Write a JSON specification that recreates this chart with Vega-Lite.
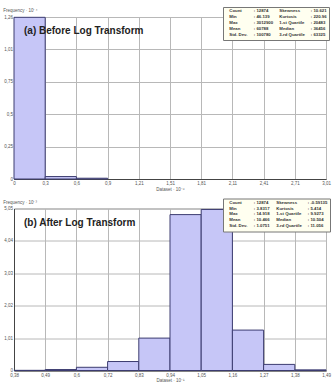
{
  "$schema": "https://vega.github.io/schema/vega-lite/v6.json",
  "padding": {"left": 2, "top": 6, "right": 2, "bottom": 2},
  "background": "white",
  "bounds": "flush",
  "spacing": 29.5,
  "datasets": {
    "before": [
      {"bin_start": 0, "bin_end": 0.30129, "frequency": 1.255},
      {"bin_start": 0.30129, "bin_end": 0.60258, "frequency": 0.019},
      {"bin_start": 0.60258, "bin_end": 0.90387, "frequency": 0.006}
    ],
    "after": [
      {"bin_start": 0.38317, "bin_end": 0.494033, "frequency": 0.005},
      {"bin_start": 0.494033, "bin_end": 0.604896, "frequency": 0.03},
      {"bin_start": 0.604896, "bin_end": 0.715759, "frequency": 0.1},
      {"bin_start": 0.715759, "bin_end": 0.826622, "frequency": 0.28},
      {"bin_start": 0.826622, "bin_end": 0.937485, "frequency": 1.01},
      {"bin_start": 0.937485, "bin_end": 1.048348, "frequency": 4.86},
      {"bin_start": 1.048348, "bin_end": 1.159211, "frequency": 5.02},
      {"bin_start": 1.159211, "bin_end": 1.270074, "frequency": 1.26},
      {"bin_start": 1.270074, "bin_end": 1.380937, "frequency": 0.19},
      {"bin_start": 1.380937, "bin_end": 1.4918, "frequency": 0.02}
    ],
    "statsBefore": [
      {"stat": "Count", "value": "12874"},
      {"stat": "Skewness", "value": "10.621"},
      {"stat": "Min", "value": "46.139"},
      {"stat": "Kurtosis", "value": "220.96"},
      {"stat": "Max", "value": "3012900"},
      {"stat": "1-st Quartile", "value": "20483"},
      {"stat": "Mean", "value": "60788"},
      {"stat": "Median", "value": "36456"},
      {"stat": "Std. Dev.", "value": "100780"},
      {"stat": "3-rd Quartile", "value": "63325"}
    ],
    "statsAfter": [
      {"stat": "Count", "value": "12874"},
      {"stat": "Skewness", "value": "-0.59135"},
      {"stat": "Min", "value": "3.8317"},
      {"stat": "Kurtosis", "value": "5.414"},
      {"stat": "Max", "value": "14.918"},
      {"stat": "1-st Quartile", "value": "9.9273"},
      {"stat": "Mean", "value": "10.466"},
      {"stat": "Median", "value": "10.504"},
      {"stat": "Std. Dev.", "value": "1.0751"},
      {"stat": "3-rd Quartile", "value": "11.056"}
    ]
  },
  "resolve": {"scale": {"color": "independent"}, "legend": {"color": "independent"}},
  "vconcat": [
    {
      "width": 312,
      "height": 162,
      "title": {"text": "(a) Before Log Transform", "anchor": "start", "frame": "group", "offset": -37.6, "dx": 10, "baseline": "alphabetic", "fontSize": 10, "font": "Liberation Sans", "fontWeight": "bold", "color": "#222"},
      "layer": [
        {
          "data": {"name": "before"},
          "mark": {"type": "rect", "fill": "#c6c6f7", "stroke": "#3c3c70", "strokeWidth": 1},
          "encoding": {
            "x": {"field": "bin_start", "type": "quantitative", "scale": {"domain": [0, 3.0129], "nice": false, "zero": false},
              "axis": {"values": [0, 0.30129, 0.60258, 0.90387, 1.20516, 1.50645, 1.80774, 2.10903, 2.41032, 2.71161, 3.0129], "labelExpr": "replace(format(datum.value, '.2~f'), '.', ',')", "title": "Dataset · 10⁻⁶"}},
            "x2": {"field": "bin_end"},
            "y": {"field": "frequency", "type": "quantitative", "scale": {"domain": [0, 1.2575], "nice": false},
              "axis": {"values": [0, 0.2515, 0.503, 0.7545, 1.006, 1.2575], "labelExpr": "replace(format(datum.value, '.2~f'), '.', ',')", "title": "Frequency · 10⁻⁴", "titleAngle": 0, "titleAlign": "left", "titleBaseline": "alphabetic", "titleX": -11.3, "titleY": -5.5}}
          }
        },
        {
          "data": {"name": "statsBefore"},
          "transform": [
            {"fold": ["stat", "value"], "as": ["part", "text"]},
            {"calculate": "datum.part == 'value' ? ': ' + datum.text : datum.text", "as": "entry"}
          ],
          "mark": {"type": "point", "opacity": 0},
          "encoding": {
            "color": {"field": "entry", "type": "nominal", "sort": null, "scale": {"range": ["#333333"]},
              "legend": {"orient": "none", "direction": "horizontal", "legendX": 209, "legendY": -10, "columns": 4, "title": null, "symbolSize": 0, "symbolOpacity": 0, "symbolStrokeWidth": 0, "labelOffset": 0, "labelFontSize": 4.3, "labelFont": "Liberation Sans", "labelFontWeight": "bold", "labelColor": "#333", "fillColor": "#fffff0", "strokeColor": "#777", "padding": 2, "columnPadding": 1.5, "rowPadding": 0.9}}
          }
        }
      ]
    },
    {
      "width": 312,
      "height": 162,
      "title": {"text": "(b) After Log Transform", "anchor": "start", "frame": "group", "offset": -37.6, "dx": 10, "baseline": "alphabetic", "fontSize": 10, "font": "Liberation Sans", "fontWeight": "bold", "color": "#222"},
      "layer": [
        {
          "data": {"name": "after"},
          "mark": {"type": "rect", "fill": "#c6c6f7", "stroke": "#3c3c70", "strokeWidth": 1},
          "encoding": {
            "x": {"field": "bin_start", "type": "quantitative", "scale": {"domain": [0.38317, 1.4918], "nice": false, "zero": false},
              "axis": {"values": [0.38317, 0.494033, 0.604896, 0.715759, 0.826622, 0.937485, 1.048348, 1.159211, 1.270074, 1.380937, 1.4918], "labelExpr": "replace(format(datum.value, '.2~f'), '.', ',')", "title": "Dataset · 10⁻¹"}},
            "x2": {"field": "bin_end"},
            "y": {"field": "frequency", "type": "quantitative", "scale": {"domain": [0, 5.05], "nice": false},
              "axis": {"values": [0, 1.01, 2.02, 3.03, 4.04, 5.05], "labelExpr": "replace(format(datum.value, '.2~f'), '.', ',')", "title": "Frequency · 10⁻³", "titleAngle": 0, "titleAlign": "left", "titleBaseline": "alphabetic", "titleX": -11.3, "titleY": -5.5}}
          }
        },
        {
          "data": {"name": "statsAfter"},
          "transform": [
            {"fold": ["stat", "value"], "as": ["part", "text"]},
            {"calculate": "datum.part == 'value' ? ': ' + datum.text : datum.text", "as": "entry"}
          ],
          "mark": {"type": "point", "opacity": 0},
          "encoding": {
            "color": {"field": "entry", "type": "nominal", "sort": null, "scale": {"range": ["#333333"]},
              "legend": {"orient": "none", "direction": "horizontal", "legendX": 209, "legendY": -10, "columns": 4, "title": null, "symbolSize": 0, "symbolOpacity": 0, "symbolStrokeWidth": 0, "labelOffset": 0, "labelFontSize": 4.3, "labelFont": "Liberation Sans", "labelFontWeight": "bold", "labelColor": "#333", "fillColor": "#fffff0", "strokeColor": "#777", "padding": 2, "columnPadding": 1.5, "rowPadding": 0.9}}
          }
        }
      ]
    }
  ],
  "config": {
    "view": {"stroke": "#999", "strokeWidth": 1},
    "axis": {
      "ticks": false,
      "labelFontSize": 4.5,
      "labelFont": "Liberation Sans",
      "labelColor": "#555",
      "labelPadding": 1.5,
      "labelFlush": false,
      "labelOverlap": false,
      "gridColor": "#b8b8b8",
      "gridOpacity": 1,
      "gridWidth": 1,
      "domainColor": "#444",
      "titleFontSize": 4.5,
      "titleFont": "Liberation Sans",
      "titleFontWeight": "normal",
      "titleColor": "#555",
      "titlePadding": 1
    }
  }
}
